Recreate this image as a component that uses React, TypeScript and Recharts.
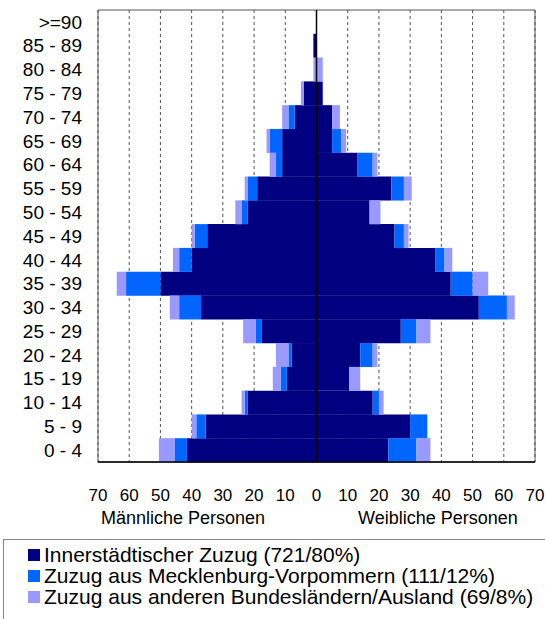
import React from 'react';
import { BarChart, Bar, XAxis, YAxis, CartesianGrid, ReferenceLine, ReferenceArea } from 'recharts';

// age groups, top to bottom
const ageGroups = [
  '>=90', '85 - 89', '80 - 84', '75 - 79', '70 - 74', '65 - 69', '60 - 64', '55 - 59', '50 - 54', '45 - 49',
  '40 - 44', '35 - 39', '30 - 34', '25 - 29', '20 - 24', '15 - 19', '10 - 14', '5 - 9', '0 - 4',
];

const maleInner = [0, 1, 0, 4, 7, 11, 11, 19, 22, 35, 40, 50, 37, 17.5, 8, 9.5, 22, 35.5, 41.5];
const maleMV = [0, 0, 0, 0, 2, 4, 2, 3, 2, 4, 4, 11, 7, 2, 1, 2, 1, 3, 4];
const maleOther = [0, 0, 1, 1, 2, 1, 2, 1, 2, 1, 2, 3, 3, 4, 4, 2.5, 1, 1.5, 5];

const femaleInner = [0, 0, 0, 2, 5, 5, 13, 24, 17, 25, 38, 43, 52, 27, 14, 10.5, 18, 30, 23];
const femaleMV = [0, 0, 0, 0, 0, 3, 5, 4, 0, 3, 3, 7, 9, 5, 4, 0, 2, 5.5, 9];
const femaleOther = [0, 0, 2, 0, 2.5, 1.5, 1.5, 2.5, 3.5, 1.5, 2.5, 5, 2.5, 4.5, 1.5, 3.5, 1.5, 0, 4.5];

const seriesNames = [
  'Innerstädtischer Zuzug (721/80%)',
  'Zuzug aus Mecklenburg-Vorpommern (111/12%)',
  'Zuzug aus anderen Bundesländern/Ausland (69/8%)',
];
const seriesColors = ['#000080', '#0066ff', '#9999ff'];

const xTicks = [-70, -60, -50, -40, -30, -20, -10, 0, 10, 20, 30, 40, 50, 60, 70];

const data = ageGroups.map((age, i) => ({
  age,
  mInner: -maleInner[i],
  mMV: -maleMV[i],
  mOther: -maleOther[i],
  fInner: femaleInner[i],
  fMV: femaleMV[i],
  fOther: femaleOther[i],
}));

const font = '"Liberation Sans", Arial, sans-serif';

export default function App() {
  return (
    <div style={{ position: 'absolute', left: 0, top: 0, width: 545, height: 619, overflow: 'hidden', fontFamily: font, background: '#fff' }}>
      <BarChart
        width={545}
        height={510}
        data={data}
        layout="vertical"
        stackOffset="sign"
        barCategoryGap={0}
        barGap={0}
        margin={{ top: 10, right: 10, bottom: 8, left: 0 }}
      >
        <CartesianGrid horizontal={false} strokeDasharray="3 3" stroke="#555" />
        <XAxis
          type="number"
          domain={[-70, 70]}
          ticks={xTicks}
          tickFormatter={(v: number) => String(Math.abs(v))}
          height={40}
          axisLine={{ stroke: '#000', strokeWidth: 1.5 }}
          tickLine={false}
          tickSize={0}
          tickMargin={27}
          tick={{ fill: '#000', fontSize: 17, fontFamily: font }}
        />
        <YAxis
          type="category"
          dataKey="age"
          width={98}
          interval={0}
          axisLine={false}
          tickLine={false}
          tickSize={0}
          tickMargin={16}
          tick={{ fill: '#000', fontSize: 19, fontFamily: font }}
        />
        <Bar dataKey="mInner" stackId="a" fill={seriesColors[0]} isAnimationActive={false} />
        <Bar dataKey="mMV" stackId="a" fill={seriesColors[1]} isAnimationActive={false} />
        <Bar dataKey="mOther" stackId="a" fill={seriesColors[2]} isAnimationActive={false} />
        <Bar dataKey="fInner" stackId="a" fill={seriesColors[0]} isAnimationActive={false} />
        <Bar dataKey="fMV" stackId="a" fill={seriesColors[1]} isAnimationActive={false} />
        <Bar dataKey="fOther" stackId="a" fill={seriesColors[2]} isAnimationActive={false} />
        <ReferenceArea x1={-70} x2={70} fill="none" stroke="#555" strokeWidth={1} />
        <ReferenceLine x={0} stroke="#000" strokeWidth={1.5} />
      </BarChart>

      <div style={{ position: 'absolute', left: 83, top: 508, width: 200, textAlign: 'center', fontSize: 18 }}>Männliche Personen</div>
      <div style={{ position: 'absolute', left: 338, top: 508, width: 200, textAlign: 'center', fontSize: 18 }}>Weibliche Personen</div>

      <div
        style={{
          position: 'absolute',
          left: 3,
          top: 539,
          width: 600,
          height: 100,
          border: '1px solid #888',
          boxSizing: 'border-box',
          paddingTop: 4,
          paddingLeft: 24,
        }}
      >
        {seriesNames.map((name, i) => (
          <div key={name} style={{ display: 'flex', alignItems: 'center', height: 21.4, fontSize: 21, whiteSpace: 'nowrap' }}>
            <span style={{ display: 'inline-block', width: 12, height: 12, background: seriesColors[i], marginRight: 4 }} />
            <span>{name}</span>
          </div>
        ))}
      </div>
    </div>
  );
}
